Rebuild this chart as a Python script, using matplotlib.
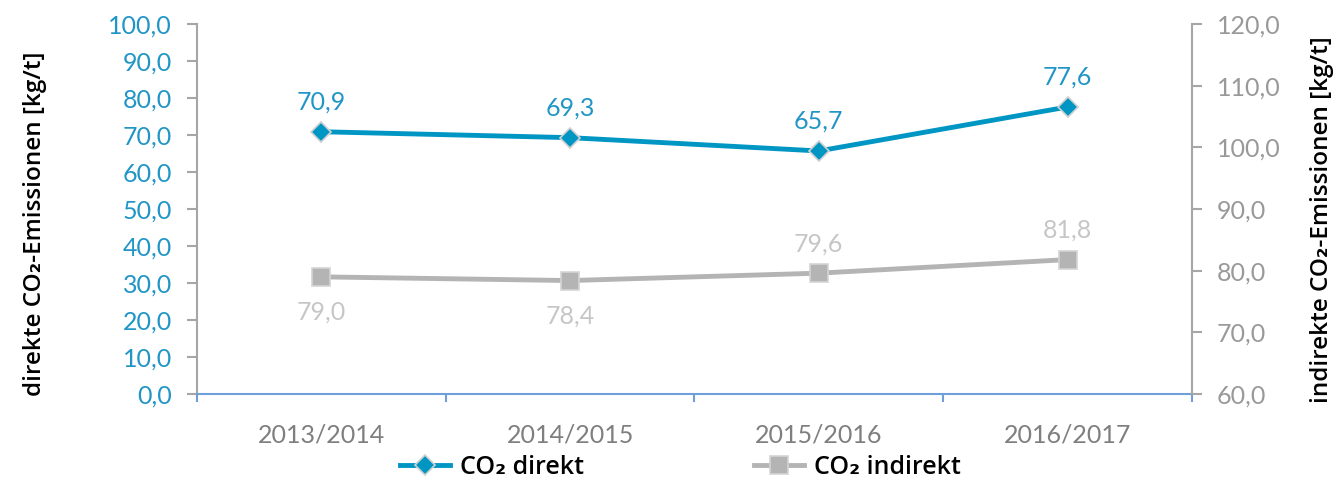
import matplotlib
matplotlib.use("Agg")
import matplotlib.pyplot as plt
from matplotlib.lines import Line2D

categories = ["2013/2014", "2014/2015", "2015/2016", "2016/2017"]
co2_direkt = [70.9, 69.3, 65.7, 77.6]
co2_indirekt = [79.0, 78.4, 79.6, 81.8]
indirekt_label_pos = ["below", "below", "above", "above"]

BLUE = "#0096c4"
BLUE_TXT = "#2196c6"
GREY = "#b4b4b4"
GREY_LBL = "#c6c6c6"
GREY_TICK = "#999999"
XTICK = "#7f7f7f"
TICKFONT = ["Lato", "DejaVu Sans"]
LABFONT = ["Open Sans", "DejaVu Sans"]
TS = 18

fig = plt.figure(figsize=(13.37, 4.82), dpi=100)
ax = fig.add_axes([0.1473, 0.1826, 0.8915 - 0.1473, 0.950 - 0.1826])
ax2 = ax.twinx()

x = list(range(len(categories)))

ax.plot(x, co2_direkt, color=BLUE, lw=3.5, marker="D", ms=10,
        markerfacecolor=BLUE, markeredgecolor="#d0d0d0", markeredgewidth=1.2, zorder=5)
ax2.plot(x, co2_indirekt, color=GREY, lw=3.5, marker="s", ms=13,
         markerfacecolor=GREY, markeredgecolor="#d4d4d4", markeredgewidth=1.2, zorder=5)

fmt = lambda v: f"{v:.1f}".replace(".", ",")

for xi, v in zip(x, co2_direkt):
    ax.annotate(fmt(v), (xi, v), xytext=(0, 13), textcoords="offset points",
                ha="center", va="bottom", color=BLUE_TXT, fontsize=TS, family=TICKFONT)
for xi, v, p in zip(x, co2_indirekt, indirekt_label_pos):
    off = 13 if p == "above" else -17
    ax2.annotate(fmt(v), (xi, v), xytext=(0, off), textcoords="offset points",
                 ha="center", va="bottom" if p == "above" else "top",
                 color=GREY_LBL, fontsize=TS, family=TICKFONT)

ax.set_xlim(-0.5, 3.5)
ax.set_ylim(0, 100)
ax2.set_ylim(60, 120)
ax.set_yticks(range(0, 101, 10))
ax2.set_yticks(range(60, 121, 10))
ax.set_yticklabels([fmt(v) for v in range(0, 101, 10)], color=BLUE_TXT, fontsize=TS, family=TICKFONT)
ax2.set_yticklabels([fmt(v) for v in range(60, 121, 10)], color=GREY_TICK, fontsize=TS, family=TICKFONT)

ax.set_xticks(x)
ax.set_xticklabels(categories, color=XTICK, fontsize=TS, family=TICKFONT)
ax.set_xticks([-0.5, 0.5, 1.5, 2.5, 3.5], minor=True)
ax.tick_params(axis="x", which="major", length=0, pad=21)
ax.tick_params(axis="x", which="minor", length=6, width=1.5, color="#6f9fd8", direction="out")

for a in (ax, ax2):
    for s in a.spines.values():
        s.set_visible(False)
ax.spines["left"].set_visible(True)
ax.spines["left"].set_color("#a6a6a6")
ax.spines["left"].set_linewidth(1.5)
ax.spines["bottom"].set_visible(True)
ax.spines["bottom"].set_color("#6f9fd8")
ax.spines["bottom"].set_linewidth(1.5)
ax2.spines["right"].set_visible(True)
ax2.spines["right"].set_color("#a6a6a6")
ax2.spines["right"].set_linewidth(1.5)
ax.tick_params(axis="y", length=7, width=1.5, color="#a6a6a6", pad=11)
ax2.tick_params(axis="y", length=7, width=1.5, color="#a6a6a6", pad=11)

fig.text(35 / 1337, 1 - 224 / 482, "direkte CO₂-Emissionen [kg/t]", rotation=90,
         ha="center", va="center", fontsize=17.5, family=LABFONT, fontweight="semibold")
fig.text(1322 / 1337, 1 - 220 / 482, "indirekte CO₂-Emissionen [kg/t]", rotation=90,
         ha="center", va="center", fontsize=17.5, family=LABFONT, fontweight="semibold")

handles = [
    Line2D([], [], color=BLUE, lw=3.5, marker="D", ms=10, markerfacecolor=BLUE,
           markeredgecolor="#d0d0d0", markeredgewidth=1.2),
    Line2D([], [], color=GREY, lw=3.5, marker="s", ms=13, markerfacecolor=GREY,
           markeredgecolor="#d4d4d4", markeredgewidth=1.2),
]
fig.legend(handles, ["CO₂ direkt", "CO₂ indirekt"], loc="center", bbox_to_anchor=(0.509, 0.03),
           ncol=2, frameon=False, prop={"family": LABFONT, "size": 18, "weight": "semibold"},
           columnspacing=6.8, handlelength=2.0, handletextpad=0.4)

fig.savefig("out.png", dpi=100)
